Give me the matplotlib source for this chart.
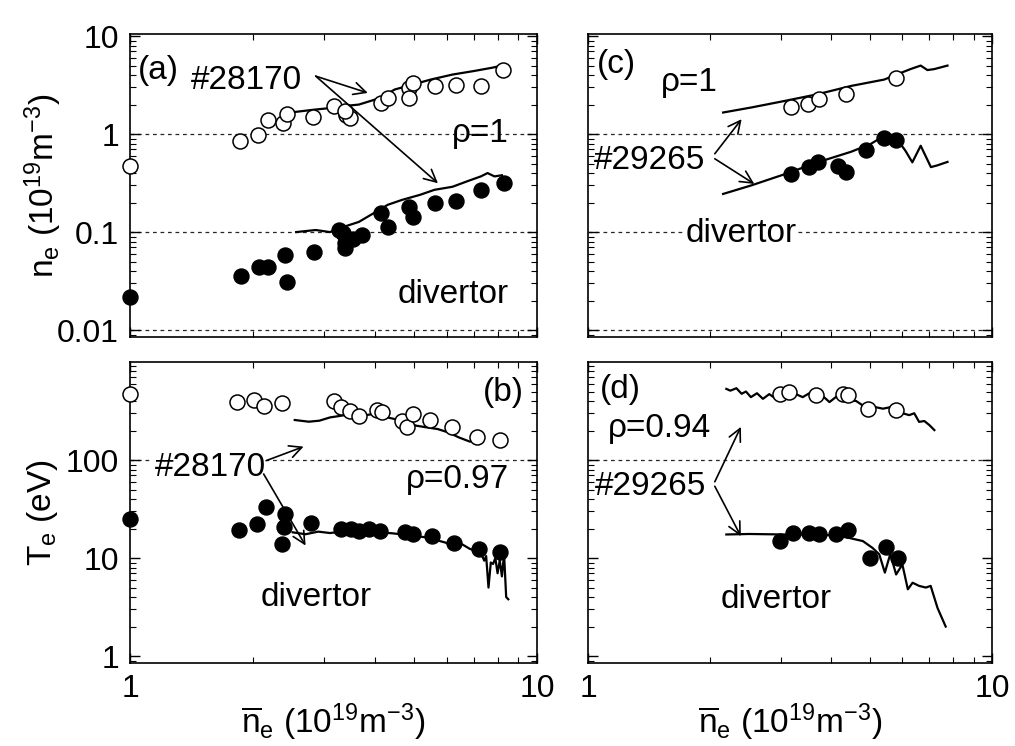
import matplotlib
matplotlib.use("Agg")
import matplotlib.pyplot as plt
from matplotlib.ticker import LogLocator, NullFormatter, FixedLocator, FixedFormatter

plt.rcParams['font.family'] = ['Liberation Sans', 'DejaVu Sans']
plt.rcParams['mathtext.fontset'] = 'custom'
plt.rcParams['mathtext.rm'] = 'Liberation Sans'
plt.rcParams['mathtext.it'] = 'Liberation Sans'
plt.rcParams['mathtext.default'] = 'regular'

# ---------------- data ----------------
# (a) density, #28170
a_open_x = [1.0, 1.86, 2.06, 2.18, 2.38, 2.43, 2.81, 3.17, 3.40, 3.47, 3.37, 4.13, 4.30, 4.85, 4.85, 4.95, 5.6, 6.32, 7.28, 8.23]
a_open_y = [0.47, 0.84, 0.98, 1.40, 1.30, 1.61, 1.49, 1.92, 1.58, 1.46, 1.70, 2.08, 2.34, 2.96, 2.34, 3.33, 3.12, 3.2, 3.08, 4.49]
a_lup_x = [2.41, 2.6, 2.82, 3.05, 3.30, 3.65, 4.0, 4.2, 4.47, 4.95, 5.48, 6.2, 7.0, 7.75, 8.4]
a_lup_y = [1.64, 1.70, 1.77, 1.83, 1.92, 2.0, 2.25, 2.45, 2.85, 3.2, 3.6, 4.05, 4.4, 4.75, 5.1]
a_fill_x = [1.0, 1.87, 2.07, 2.18, 2.41, 2.43, 2.83, 3.33, 3.37, 3.37, 3.27, 3.54, 3.72, 4.13, 4.30, 4.85, 4.95, 5.6, 6.32, 7.28, 8.3]
a_fill_y = [0.022, 0.036, 0.044, 0.044, 0.058, 0.031, 0.063, 0.097, 0.077, 0.068, 0.105, 0.086, 0.094, 0.155, 0.114, 0.18, 0.144, 0.197, 0.21, 0.27, 0.32]
a_llo_x = [2.56, 2.86, 3.1, 3.37, 3.65, 3.96, 4.30, 4.66, 5.16, 5.6, 6.2, 6.74, 7.28, 7.56, 7.86, 8.2]
a_llo_y = [0.10, 0.105, 0.10, 0.114, 0.127, 0.155, 0.19, 0.213, 0.24, 0.27, 0.29, 0.33, 0.37, 0.40, 0.37, 0.38]

# (b) temperature, #28170
b_open_x = [1.0, 1.83, 2.02, 2.14, 2.36, 3.17, 3.30, 3.47, 3.65, 4.04, 4.16, 4.65, 4.79, 4.95, 5.47, 6.18, 7.11, 8.11]
b_open_y = [471, 387, 409, 358, 378, 398, 344, 319, 283, 323, 306, 251, 215, 295, 256, 215, 173, 160]
b_lup_x = [2.54, 2.75, 2.92, 3.10, 3.30, 3.50, 3.72, 3.96, 4.2, 4.47, 4.77, 5.05, 5.37, 5.7, 6.06, 6.43, 6.84, 7.11]
b_lup_y = [256, 246, 252, 272, 283, 295, 283, 295, 277, 262, 242, 224, 215, 207, 191, 170, 154, 160]
b_fill_x = [1.0, 1.85, 2.05, 2.16, 2.41, 2.39, 2.36, 2.78, 3.30, 3.50, 3.65, 3.87, 4.12, 4.75, 4.95, 5.53, 6.24, 7.19, 8.12]
b_fill_y = [25, 19.3, 22, 33, 28, 20.5, 13.9, 23, 19.8, 19.8, 19.0, 19.8, 19, 18.3, 17.6, 16.9, 14.1, 12.4, 11.4]
b_llo_x = [2.51, 2.7, 2.9, 3.1, 3.4, 3.7, 4.0, 4.4, 4.8, 5.37, 5.95, 6.3, 6.55, 6.84, 7.1, 7.3, 7.42, 7.5, 7.6, 7.7, 7.8, 7.9, 8.0, 8.1, 8.2, 8.3, 8.4, 8.5]
b_llo_y = [18.3, 17.5, 18.6, 18.0, 18.8, 18.2, 18.4, 17.9, 17.2, 16.2, 14.4, 13.0, 13.8, 12.4, 11.8, 11.0, 9.4, 10.5, 5.0, 9.0, 8.7, 10.0, 7.0, 9.5, 6.5, 11.0, 4.0, 3.8]

# (c) density, #29265
c_open_x = [3.18, 3.50, 3.74, 4.35, 5.78]
c_open_y = [1.87, 2.02, 2.27, 2.55, 3.77]
c_lup_x = [2.16, 2.54, 3.07, 3.70, 4.48, 5.41, 5.94, 6.28, 6.66, 6.92, 7.19, 7.76]
c_lup_y = [1.66, 1.87, 2.18, 2.55, 3.1, 3.6, 4.2, 4.6, 5.0, 4.5, 4.6, 5.0]
c_fill_x = [3.18, 3.53, 3.70, 4.15, 4.35, 4.87, 5.41, 5.78]
c_fill_y = [0.39, 0.46, 0.515, 0.476, 0.41, 0.68, 0.92, 0.86]
c_llo_x = [2.16, 2.54, 3.07, 3.70, 4.48, 5.0, 5.41, 5.50, 5.94, 6.1, 6.35, 6.66, 7.06, 7.33, 7.76]
c_llo_y = [0.245, 0.30, 0.39, 0.515, 0.66, 0.79, 0.96, 1.0, 0.79, 0.68, 0.515, 0.76, 0.46, 0.48, 0.52]

# (d) temperature, #29265
d_open_x = [2.98, 3.15, 3.67, 4.27, 4.39, 4.93, 5.79]
d_open_y = [474, 492, 456, 474, 456, 334, 321]
d_lup_x = [2.20, 2.25, 2.33, 2.40, 2.46, 2.53, 2.62, 2.71, 2.81, 2.92, 3.03, 3.15, 3.27, 3.40, 3.53, 3.67, 3.81, 3.96, 4.11, 4.27, 4.44, 4.61, 4.79, 4.98, 5.17, 5.37, 5.58, 5.79, 6.01, 6.24, 6.42, 6.6, 6.8, 7.0, 7.2]
d_lup_y = [532, 510, 540, 474, 500, 438, 480, 421, 470, 421, 480, 456, 470, 438, 480, 406, 450, 390, 440, 420, 406, 400, 360, 350, 345, 334, 345, 321, 300, 287, 300, 245, 250, 227, 202]
d_fill_x = [2.98, 3.21, 3.53, 3.74, 4.11, 4.40, 4.98, 5.47, 5.85]
d_fill_y = [14.9, 18.1, 18.1, 17.4, 17.4, 19.5, 9.9, 13.1, 9.9]
d_llo_x = [2.20, 2.51, 3.04, 3.67, 4.11, 4.44, 4.79, 5.06, 5.26, 5.43, 5.60, 5.79, 6.0, 6.19, 6.36, 6.6, 6.86, 7.05, 7.33, 7.68]
d_llo_y = [17.4, 17.6, 17.4, 17.4, 17.0, 16.0, 14.9, 12.7, 10.9, 7.1, 11.0, 6.8, 8.6, 4.8, 5.6, 5.2, 5.0, 5.2, 3.1, 2.0]

x_ticks = [1, 10]
x_ticklabels = ['1', '10']
n_ticks = [0.01, 0.1, 1, 10]
n_ticklabels = ['0.01', '0.1', '1', '10']
t_ticks = [1, 10, 100]
t_ticklabels = ['1', '10', '100']
n_grid = [0.01, 0.1, 1]
t_grid = [100]

# ---------------- figure ----------------
fig = plt.figure(figsize=(10.15, 7.46), dpi=100)
L, R = 130 / 1015, 588 / 1015
WL, WR = 407 / 1015, 404 / 1015
TB, TH = 1 - 337 / 746, 303 / 746
BB, BH = 1 - 663 / 746, 301 / 746
axa = fig.add_axes([L, TB, WL, TH])
axb = fig.add_axes([L, BB, WL, BH])
axc = fig.add_axes([R, TB, WR, TH])
axd = fig.add_axes([R, BB, WR, BH])

FS = 23
MS = 10.8
LW = 1.6


def style(ax, ylim, yt, ytl, grid, show_x, show_y):
    ax.set_xscale('log')
    ax.set_yscale('log')
    ax.set_xlim(1, 10)
    ax.set_ylim(*ylim)
    for sp in ax.spines.values():
        sp.set_linewidth(1.2)
    ax.xaxis.set_major_locator(FixedLocator(x_ticks))
    ax.xaxis.set_minor_locator(LogLocator(base=10, subs=range(2, 10)))
    ax.xaxis.set_minor_formatter(NullFormatter())
    ax.yaxis.set_major_locator(FixedLocator(yt))
    ax.yaxis.set_minor_locator(LogLocator(base=10, subs=range(2, 10), numticks=20))
    ax.yaxis.set_minor_formatter(NullFormatter())
    if show_x:
        ax.xaxis.set_major_formatter(FixedFormatter(x_ticklabels))
    else:
        ax.xaxis.set_major_formatter(NullFormatter())
    if show_y:
        ax.yaxis.set_major_formatter(FixedFormatter(ytl))
    else:
        ax.yaxis.set_major_formatter(NullFormatter())
    ax.tick_params(which='both', direction='in', top=True, right=True, labelsize=FS)
    ax.tick_params(which='major', length=7, width=1.0, pad=8)
    ax.tick_params(which='minor', length=4, width=0.8)
    for g in grid:
        ax.axhline(g, color='0.15', lw=0.9, ls=(0, (3, 3)), zorder=1)


def draw(ax, ox, oy, lux, luy, fx, fy, llx, lly):
    ax.plot(lux, luy, color='black', lw=LW, zorder=3)
    ax.plot(llx, lly, color='black', lw=LW, zorder=3)
    ax.plot(ox, oy, ls='none', marker='o', ms=MS, mfc='white', mec='black', mew=1.1, zorder=4, clip_on=False)
    ax.plot(fx, fy, ls='none', marker='o', ms=MS, mfc='black', mec='black', zorder=4, clip_on=False)


def arrow(ax, tail, head):
    ax.annotate('', xy=head, xytext=tail,
                arrowprops=dict(arrowstyle='->', lw=1.2, color='black', mutation_scale=22,
                                shrinkA=0, shrinkB=0), zorder=5)


style(axa, (0.0085, 10.5), n_ticks, n_ticklabels, n_grid, False, True)
style(axb, (0.85, 1000), t_ticks, t_ticklabels, t_grid, True, True)
style(axc, (0.0085, 10.5), n_ticks, n_ticklabels, n_grid, False, False)
style(axd, (0.85, 1000), t_ticks, t_ticklabels, t_grid, True, False)

draw(axa, a_open_x, a_open_y, a_lup_x, a_lup_y, a_fill_x, a_fill_y, a_llo_x, a_llo_y)
draw(axb, b_open_x, b_open_y, b_lup_x, b_lup_y, b_fill_x, b_fill_y, b_llo_x, b_llo_y)
draw(axc, c_open_x, c_open_y, c_lup_x, c_lup_y, c_fill_x, c_fill_y, c_llo_x, c_llo_y)
draw(axd, d_open_x, d_open_y, d_lup_x, d_lup_y, d_fill_x, d_fill_y, d_llo_x, d_llo_y)

TFS = 24
white = dict(facecolor='white', edgecolor='none', pad=1)

# panel (a)
axa.text(0.02, 0.88, '(a)', transform=axa.transAxes, fontsize=TFS, ha='left', va='center')
axa.text(0.285, 0.848, '#28170', transform=axa.transAxes, fontsize=TFS, ha='center', va='center')
arrow(axa, (2.86, 3.9), (3.84, 2.63))
arrow(axa, (2.86, 3.9), (5.71, 0.315))
axa.text(0.93, 0.67, 'ρ=1', transform=axa.transAxes, fontsize=TFS, ha='right', va='center')
axa.text(0.93, 0.14, 'divertor', transform=axa.transAxes, fontsize=TFS, ha='right', va='center')

# panel (b)
axb.text(0.968, 0.90, '(b)', transform=axb.transAxes, fontsize=TFS, ha='right', va='center')
axb.text(0.197, 0.651, '#28170', transform=axb.transAxes, fontsize=TFS, ha='center', va='center', bbox=white, zorder=4)
arrow(axb, (2.16, 98.5), (2.67, 137))
arrow(axb, (2.13, 72), (2.70, 13.4))
axb.text(0.93, 0.61, 'ρ=0.97', transform=axb.transAxes, fontsize=TFS, ha='right', va='center', bbox=white, zorder=2)
axb.text(0.457, 0.216, 'divertor', transform=axb.transAxes, fontsize=TFS, ha='center', va='center')

# panel (c)
axc.text(0.022, 0.90, '(c)', transform=axc.transAxes, fontsize=TFS, ha='left', va='center')
axc.text(0.18, 0.84, 'ρ=1', transform=axc.transAxes, fontsize=TFS, ha='left', va='center')
axc.text(0.153, 0.583, '#29265', transform=axc.transAxes, fontsize=TFS, ha='center', va='center')
arrow(axc, (2.06, 0.63), (2.4, 1.42))
arrow(axc, (2.06, 0.56), (2.58, 0.31))
axc.text(0.38, 0.34, 'divertor', transform=axc.transAxes, fontsize=TFS, ha='center', va='center', bbox=white, zorder=2)

# panel (d)
axd.text(0.03, 0.907, '(d)', transform=axd.transAxes, fontsize=TFS, ha='left', va='center')
axd.text(0.05, 0.78, 'ρ=0.94', transform=axd.transAxes, fontsize=TFS, ha='left', va='center')
axd.text(0.156, 0.585, '#29265', transform=axd.transAxes, fontsize=TFS, ha='center', va='center')
arrow(axd, (2.06, 60), (2.39, 218))
arrow(axd, (2.06, 54), (2.39, 16.7))
axd.text(0.467, 0.21, 'divertor', transform=axd.transAxes, fontsize=TFS, ha='center', va='center')

# axis labels
axa.set_ylabel(r'n$_{e}$ (10$^{19}$m$^{-3}$)', fontsize=TFS, va='center')
axa.yaxis.set_label_coords(-0.214, 0.5)
axb.set_ylabel(r'T$_{e}$ (eV)', fontsize=TFS, va='center')
axb.yaxis.set_label_coords(-0.214, 0.5)
xl = r'$\overline{n}_{e}$ (10$^{19}$m$^{-3}$)'
axb.set_xlabel(xl, fontsize=TFS, va='center')
axb.xaxis.set_label_coords(0.5, -0.198)
axd.set_xlabel(xl, fontsize=TFS, va='center')
axd.xaxis.set_label_coords(0.5, -0.198)

fig.savefig('out.png', dpi=100)
